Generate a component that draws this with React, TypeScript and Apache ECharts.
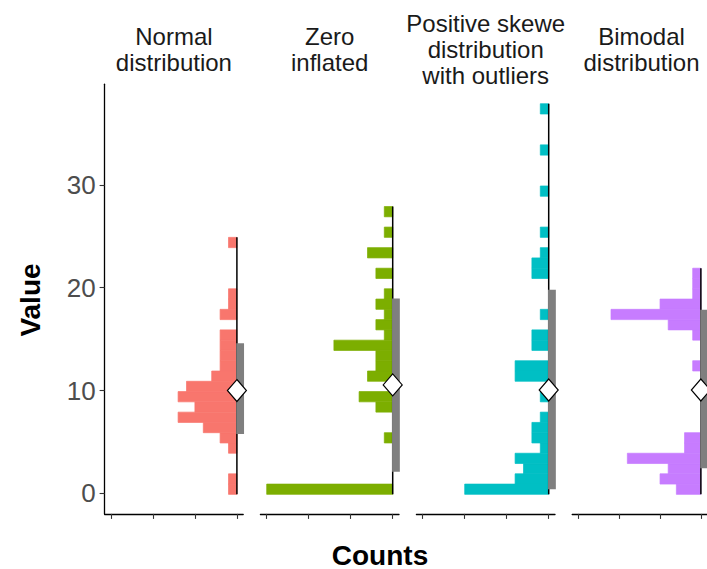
import React, { useEffect, useRef } from "react";
import * as echarts from "echarts";

// Histogram bins: bin k spans [binStart + k*binWidth, binStart + (k+1)*binWidth]
const binStart = -0.1;
const binWidth = 1;

const panelTitles = [
  "Normal\ndistribution",
  "Zero\ninflated",
  "Positive skewe\ndistribution\nwith outliers",
  "Bimodal\ndistribution",
];
const panelColors = ["#F8766D", "#7CAE00", "#00BFC4", "#C77CFF"];

const normalCounts = [1, 1, 0, 0, 1, 2, 4, 7, 5, 7, 6, 3, 2, 2, 2, 2, 0, 2, 1, 1, 0, 0, 0, 0, 1];
const zeroInflatedCounts = [15, 0, 0, 0, 0, 1, 0, 0, 2, 4, 0, 3, 2, 2, 7, 1, 2, 1, 2, 1, 0, 2, 0, 3, 0, 1, 0, 1];
const skewedCounts = [10, 4, 3, 4, 1, 2, 2, 1, 0, 1, 0, 4, 4, 0, 2, 2, 0, 1, 0, 0, 0, 2, 2, 1, 0, 1, 0, 0, 0, 1, 0, 0, 0, 1, 0, 0, 0, 1];
const bimodalCounts = [3, 5, 4, 9, 2, 2, 0, 0, 0, 0, 0, 0, 1, 0, 0, 1, 4, 11, 5, 1, 1, 1];

const allCounts = [normalCounts, zeroInflatedCounts, skewedCounts, bimodalCounts];

const means = [10.0, 10.55, 10.05, 10.05];
const boxLow = [5.77, 2.1, 0.4, 2.45];
const boxHigh = [14.6, 18.95, 19.8, 17.85];

const yTicks = [0, 10, 20, 30];
const xTicks = [0, 5, 10, 15];

const FONT = "'Liberation Sans', Arial, sans-serif";

export default function App() {
  const ref = useRef<HTMLDivElement>(null);

  useEffect(() => {
    if (!ref.current) return;
    const chart = echarts.init(ref.current, null, { renderer: "svg" });

    const gridLefts = [104.6, 260.4, 416.4, 572.2];
    const gridW = 138.6;
    const gridTop = 84.2;
    const gridH = 429.7;

    const grids = gridLefts.map((l) => ({ left: l, top: gridTop, width: gridW, height: gridH }));

    const xAxes = gridLefts.map((_, i) => ({
      type: "value",
      gridIndex: i,
      inverse: true,
      min: -0.75,
      max: 15.75,
      splitLine: { show: false },
      axisLine: { show: true, onZero: false, lineStyle: { color: "#000", width: 1.3 } },
      axisTick: { show: true, customValues: xTicks, length: 5, lineStyle: { color: "#333", width: 1.1 } },
      axisLabel: { show: false },
    }));

    const yAxes = gridLefts.map((_, i) => ({
      type: "value",
      gridIndex: i,
      min: -2,
      max: 39.8,
      show: i === 0,
      splitLine: { show: false },
      axisLine: { show: true, onZero: false, lineStyle: { color: "#000", width: 1.3 } },
      axisTick: { show: true, customValues: yTicks, length: 5, lineStyle: { color: "#333", width: 1.1 } },
      axisLabel: {
        show: true,
        customValues: yTicks,
        fontSize: 26,
        fontFamily: FONT,
        color: "#4D4D4D",
        margin: 9,
      },
    }));

    const series: any[] = [];
    allCounts.forEach((counts, i) => {
      const color = panelColors[i];
      series.push({
        type: "custom",
        xAxisIndex: i,
        yAxisIndex: i,
        data: counts.map((c, k) => [c, k]),
        renderItem: (params: any, api: any) => {
          const c = api.value(0);
          const k = api.value(1);
          if (!c) return null;
          const lo = binStart + k * binWidth;
          const p1 = api.coord([c, lo + binWidth]);
          const p2 = api.coord([0, lo]);
          return {
            type: "rect",
            shape: { x: p1[0], y: p1[1], width: p2[0] - p1[0], height: p2[1] - p1[1] },
            style: { fill: color, stroke: color, lineWidth: 0.7 },
          };
        },
      });
      // range line
      let last = 0;
      counts.forEach((c, k) => {
        if (c > 0) last = k;
      });
      series.push({
        type: "line",
        xAxisIndex: i,
        yAxisIndex: i,
        symbol: "none",
        data: [
          [0, binStart],
          [0, binStart + (last + 1) * binWidth],
        ],
        lineStyle: { color: "#000", width: 1.5 },
        z: 3,
      });
      // grey box (mean +/- sd)
      series.push({
        type: "custom",
        xAxisIndex: i,
        yAxisIndex: i,
        data: [[boxLow[i], boxHigh[i]]],
        z: 4,
        renderItem: (params: any, api: any) => {
          const lo = api.value(0);
          const hi = api.value(1);
          const p1 = api.coord([0.08, hi]);
          const p2 = api.coord([-0.85, lo]);
          return {
            type: "rect",
            shape: { x: p1[0], y: p1[1], width: p2[0] - p1[0], height: p2[1] - p1[1] },
            style: { fill: "#7F7F7F" },
          };
        },
      });
      // mean diamond
      series.push({
        type: "scatter",
        xAxisIndex: i,
        yAxisIndex: i,
        symbol: "diamond",
        symbolSize: [19, 22],
        data: [[0, means[i]]],
        itemStyle: { color: "#fff", borderColor: "#000", borderWidth: 1.2, opacity: 1 },
        z: 5,
      });
    });

    const centers = gridLefts.map((l) => l + gridW / 2);
    const graphic: any[] = panelTitles.map((t, i) => ({
      type: "text",
      x: centers[i],
      y: 49.5,
      style: {
        text: t,
        textAlign: "center",
        textVerticalAlign: "middle",
        fontSize: 24,
        fontFamily: FONT,
        lineHeight: 26,
        fill: "#1A1A1A",
      },
    }));
    graphic.push({
      type: "text",
      x: 380,
      y: 555,
      style: {
        text: "Counts",
        textAlign: "center",
        textVerticalAlign: "middle",
        fontSize: 28,
        fontWeight: "bold",
        fontFamily: FONT,
        fill: "#000",
      },
    });
    graphic.push({
      type: "text",
      x: 30,
      y: 300,
      rotation: Math.PI / 2,
      style: {
        text: "Value",
        textAlign: "center",
        textVerticalAlign: "middle",
        fontSize: 28,
        fontWeight: "bold",
        fontFamily: FONT,
        fill: "#000",
      },
    });

    chart.setOption({
      animation: false,
      backgroundColor: "#fff",
      grid: grids,
      xAxis: xAxes,
      yAxis: yAxes,
      series,
      graphic,
    });

    return () => chart.dispose();
  }, []);

  return (
    <div
      ref={ref}
      style={{ position: "fixed", left: 0, top: 0, width: 707, height: 569 }}
    />
  );
}
